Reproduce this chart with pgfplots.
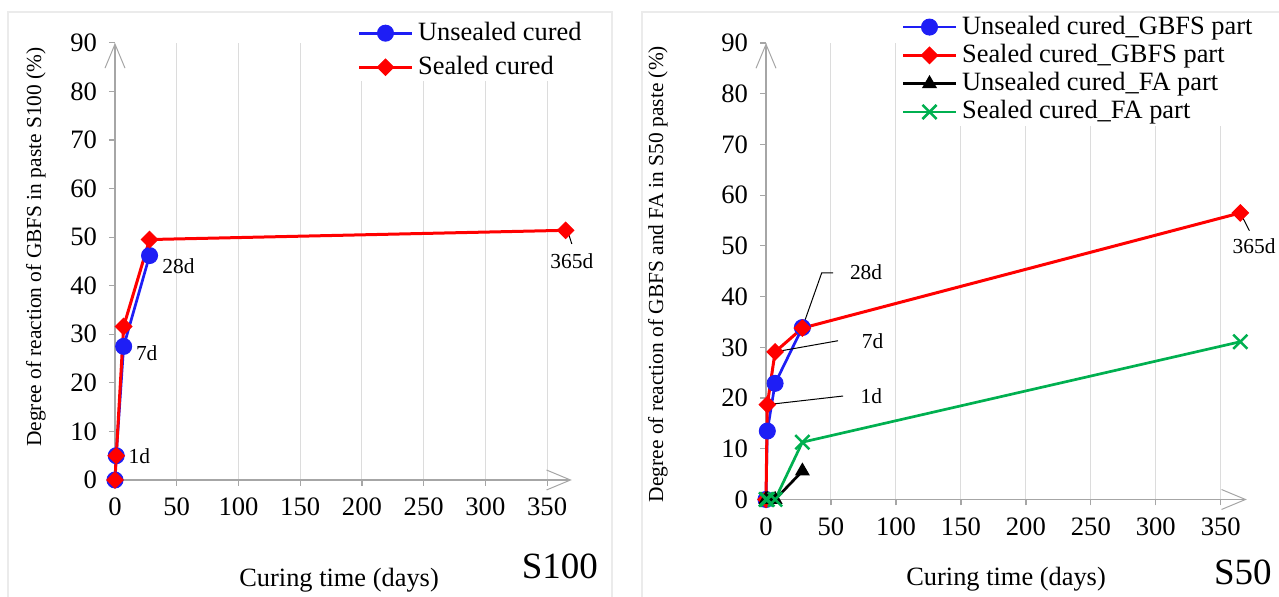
\documentclass[border=0pt]{standalone}
\usepackage{fontspec}
\setmainfont{Liberation Serif}
\usepackage{pgfplots}
\pgfplotsset{compat=1.18}
\usetikzlibrary{arrows.meta}

\definecolor{xlblue}{RGB}{30,30,245}
\definecolor{xlred}{RGB}{255,0,0}
\definecolor{xlgreen}{RGB}{0,176,80}
\definecolor{axgray}{RGB}{166,166,166}
\definecolor{gridgray}{RGB}{220,220,220}
\definecolor{framegray}{RGB}{235,235,235}

\newcommand{\annofont}{\fontsize{10.7}{12}\selectfont}
\newcommand{\labfont}{\fontsize{13.2}{15}\selectfont}

\pgfplotsset{
  excel/.style={
    scale only axis, clip=false,
    axis lines=left,
    axis line style={draw=axgray, line width=0.6pt, -{Straight Barb[length=12pt,width=10pt,line width=0.5pt]}},
    xmin=0, xmax=370, ymin=0, ymax=90,
    xtick={0,50,...,350}, ytick={0,10,...,90},
    tick align=outside, major tick length=3pt,
    tick style={draw=axgray, line width=0.6pt},
    xmajorgrids, major x grid style={draw=gridgray, line width=0.5pt},
    /pgf/number format/assume math mode=true,
    xticklabel={\textrm{\pgfmathprintnumber{\tick}}},
    yticklabel={\textrm{\pgfmathprintnumber{\tick}}},
    ticklabel style={font=\rmfamily\fontsize{13.3}{14}\selectfont},
    xticklabel shift=2.5pt, yticklabel shift=2.5pt,
    legend cell align=left,
    legend style={draw=none, fill=white, inner sep=0pt, anchor=north west,
      font=\labfont,
      nodes={text height=9.5pt, text depth=2.5pt, inner sep=1pt},
      column sep=1.3pt},
    legend image code/.code={\draw[mark repeat=2,mark phase=2,##1] plot coordinates {(0pt,0pt) (13.25pt,0pt) (26.5pt,0pt)};},
  },
  ublue/.style={color=xlblue, line width=1.35pt, mark=*, mark size=4pt, mark options={solid, fill=xlblue, draw=xlblue, line width=0.5pt}},
  sred/.style={color=xlred, line width=1.5pt, mark=square*, mark size=2.9pt, mark options={solid, rotate=45, fill=xlred, draw=xlred, line width=0.5pt}},
  ublack/.style={color=black, line width=1.35pt, mark=triangle*, mark size=3pt, mark options={solid, fill=black}},
  sgreen/.style={color=xlgreen, line width=1.35pt, mark=x, mark size=5pt, mark options={solid, line width=1.25pt}},
}

\begin{document}
\begin{tikzpicture}
\useasboundingbox (0,0) rectangle (639.5pt,298.5pt);
% chart area frames
\draw[framegray, line width=0.6pt] (4pt,-5pt) rectangle (306pt,292.5pt);
\draw[framegray, line width=0.6pt] (321pt,-5pt) rectangle (645pt,292.5pt);

% ---------------- Left chart (S100) ----------------
\begin{axis}[excel,
  at={(57.5pt,58.5pt)}, anchor=south west,
  width=228.4pt, height=218.6pt,
  every axis x label/.style={at={(axis description cs:0.4905,-0.2288)}, anchor=center, font=\labfont},
  every axis y label/.style={at={(axis description cs:-0.173,0.533)}, rotate=90, anchor=center, font=\annofont},
  xlabel={Curing time (days)},
  ylabel={Degree of reaction of GBFS in paste S100 (\%)},
  legend style={at={(axis description cs:0.530,1.055)}, row sep=3pt},
]
\addplot[ublue] coordinates {(0,0) (1,5) (7,27.5) (28,46.2)};
\addlegendentry{Unsealed cured}
\addplot[sred] coordinates {(0,0) (1,5) (7,31.6) (28,49.5) (365,51.4)};
\addlegendentry{Sealed cured}

\node[font=\annofont] at (axis cs:19.7,4.8) {1d};
\node[font=\annofont] at (axis cs:25.7,26.15) {7d};
\node[font=\annofont] at (axis cs:51.4,44.07) {28d};
\node[font=\annofont] at (axis cs:370,44.95) {365d};
\draw[black, line width=0.5pt] (axis cs:366.7,51.2) -- (axis cs:370,48.6);
\node[font=\fontsize{18.5}{20}\selectfont] at (axis description cs:0.974,-0.197) {S100};
\end{axis}

% ---------------- Right chart (S50) ----------------
\begin{axis}[excel,
  at={(383pt,48.75pt)}, anchor=south west,
  width=240.4pt, height=228.25pt,
  every axis x label/.style={at={(axis description cs:0.4993,-0.175)}, anchor=center, font=\labfont},
  every axis y label/.style={at={(axis description cs:-0.2247,0.494)}, rotate=90, anchor=center, font=\annofont},
  xlabel={Curing time (days)},
  ylabel={Degree of reaction of GBFS and FA in S50 paste (\%)},
  legend style={at={(axis description cs:0.281,1.0664)}, row sep=0.15pt},
]
\addplot[ublue] coordinates {(0,0) (1,13.5) (7,22.9) (28,33.9)};
\addlegendentry{Unsealed cured\_GBFS part}
\addplot[sred] coordinates {(0,0) (1,18.7) (7,29.1) (28,33.8) (365,56.5)};
\addlegendentry{Sealed cured\_GBFS part}
\addplot[ublack] coordinates {(0,0) (1,0) (7,0) (28,5.6)};
\addlegendentry{Unsealed cured\_FA part}
\addplot[sgreen] coordinates {(0,0) (1,0) (7,0) (28,11.3) (365,31.1)};
\addlegendentry{Sealed cured\_FA part}

\draw[black, line width=0.5pt] (axis cs:28,33.9) -- (axis cs:42.9,44.7) -- (axis cs:51.6,44.7);
\draw[black, line width=0.5pt] (axis cs:7,29.1) -- (axis cs:55.4,31.3);
\draw[black, line width=0.5pt] (axis cs:1,18.7) -- (axis cs:59.3,20.4);
\draw[black, line width=0.5pt] (axis cs:365,56.5) -- (axis cs:372,53);
\node[font=\annofont] at (axis cs:77.0,44.85) {28d};
\node[font=\annofont] at (axis cs:82.1,31.2) {7d};
\node[font=\annofont] at (axis cs:81.1,20.3) {1d};
\node[font=\annofont] at (axis cs:375.6,49.98) {365d};
\node[font=\fontsize{18.5}{20}\selectfont] at (axis description cs:0.992,-0.159) {S50};
\end{axis}
\end{tikzpicture}
\end{document}
